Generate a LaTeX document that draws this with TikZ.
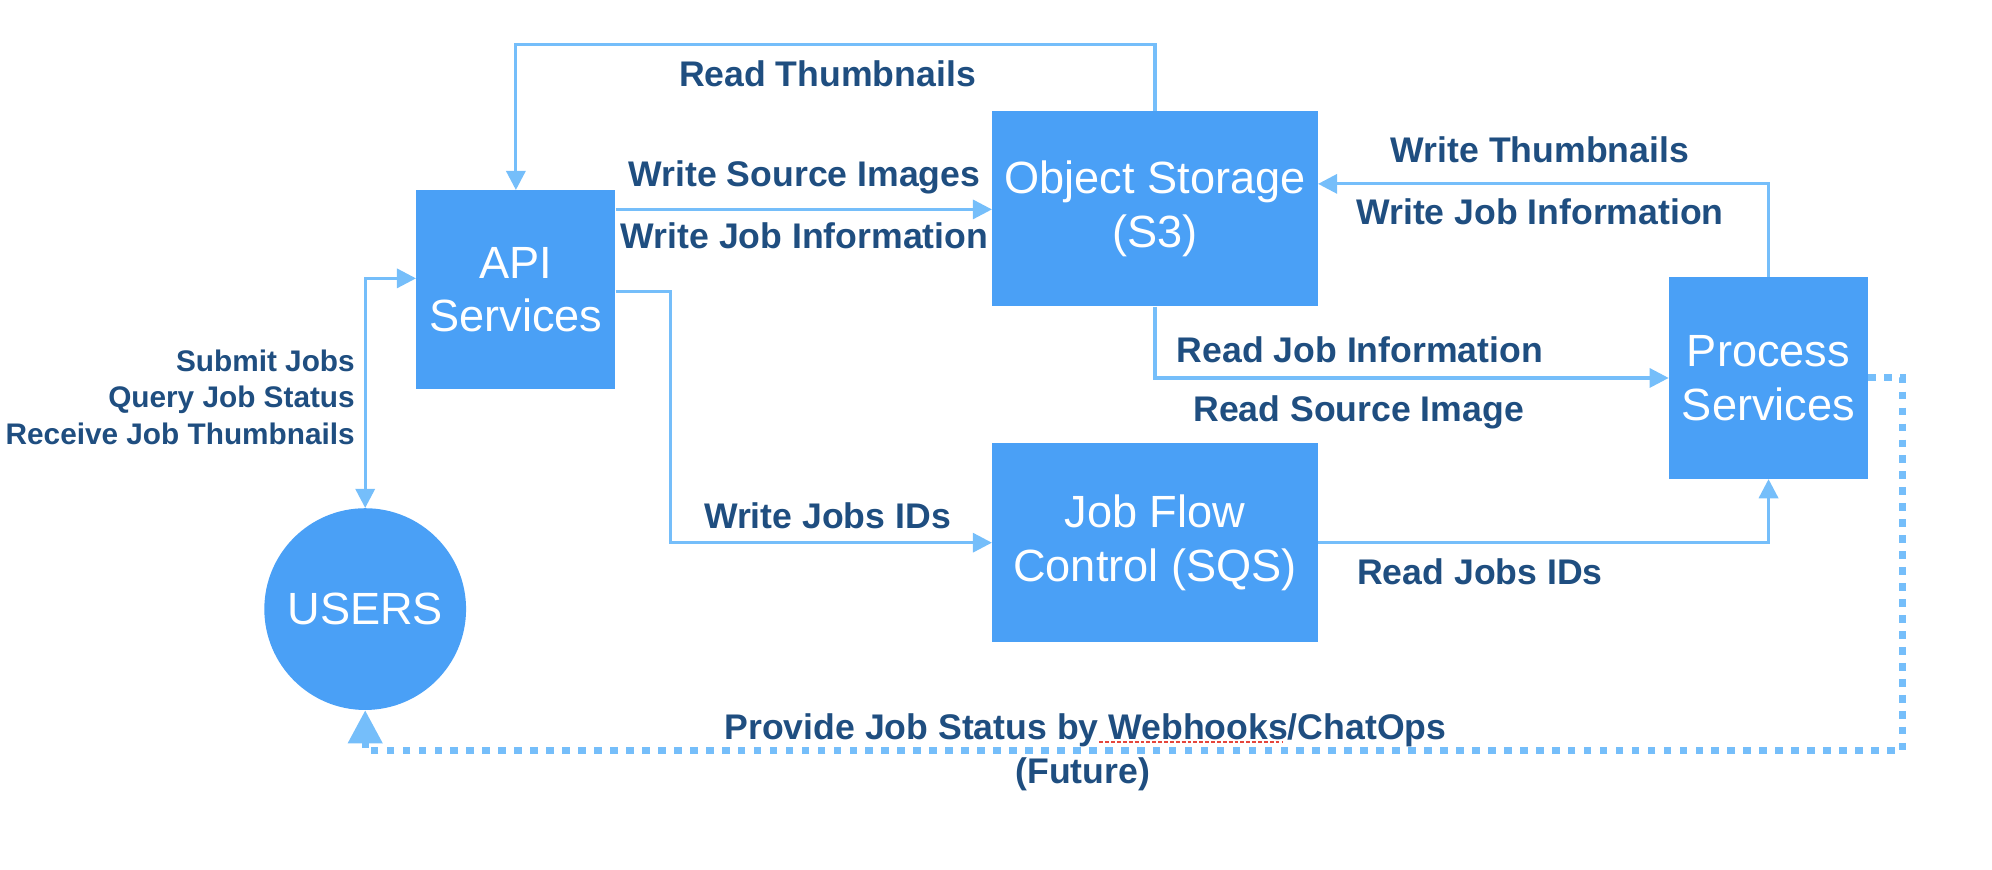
\documentclass[tikz,border=0pt]{standalone}
\usepackage{fontspec}
\setmainfont{Liberation Sans}
\usetikzlibrary{arrows.meta}
\definecolor{boxfill}{RGB}{74,160,246}
\definecolor{linecol}{RGB}{117,190,250}
\definecolor{lbl}{RGB}{31,78,128}
\definecolor{squig}{RGB}{230,70,60}
\tikzset{
  blk/.style={rectangle, fill=boxfill, text=white, align=center, inner sep=0pt,
    font=\fontsize{35.5}{42}\selectfont},
  conn/.style={draw=linecol, line width=2.5bp, -{Triangle[length=15bp,width=15bp]}},
  dotline/.style={draw=linecol, line width=5.5bp, dash pattern=on 6bp off 6.5bp,
    -{Triangle[length=26bp,width=26bp]}},
  lab/.style={text=lbl, inner sep=0pt, font=\fontsize{28}{33}\selectfont\bfseries},
  slab/.style={text=lbl, inner sep=0pt, align=right, font=\fontsize{23.4}{28.5}\selectfont\bfseries}
}
\begin{document}
\begin{tikzpicture}[x=1bp,y=-1bp]
\useasboundingbox (0,0) rectangle (1560,681.3);
% boxes
\node[blk, minimum width=156bp, minimum height=156bp] (api) at (404,227) {API\\Services};
\node[blk, minimum width=255bp, minimum height=153bp] (os) at (904.5,163.5) {Object Storage\\(S3)};
\node[blk, minimum width=255bp, minimum height=156bp] (jf) at (904.5,425) {Job Flow\\Control (SQS)};
\node[blk, minimum width=156bp, minimum height=158bp] (ps) at (1385,296) {Process\\Services};
\node[blk, circle, minimum size=158bp] (users) at (286,477) {USERS};
% helper coordinates
\coordinate (ytop) at (0,35);
\coordinate (yws) at (0,164);
\coordinate (yjob) at (525,228);
\coordinate (ywt) at (0,144);
\coordinate (yuser) at (0,218);
\coordinate (dr) at (1490,588);
% connectors
\draw[conn] (os.north) -- (os.north |- ytop) -| (api.north);
\draw[conn] (api.east |- yws) -- (os.west |- yws);
\draw[conn] (api.east |- yjob) -- (yjob) |- (jf.west);
\draw[conn] (os.south) |- (ps.west);
\draw[conn] (ps.north) |- (os.east |- ywt);
\draw[conn] (jf.east) -| (ps.south);
\draw[conn, {Triangle[length=15bp,width=15bp]}-{Triangle[length=15bp,width=15bp]}] (users.north) |- (api.west |- yuser);
\draw[dotline] (ps.east) -| (dr) -| (users.south);
% labels
\node[lab] (l1) at (648,58) {Read Thumbnails};
\node[lab] (l2) at (630,139) {Write Source Images};
\node[lab] (l3) at (630,185) {Write Job Information};
\node[lab] (l4) at (1206,117) {Write Thumbnails};
\node[lab] (l5) at (1206,166) {Write Job Information};
\node[lab] (l6) at (1065,274) {Read Job Information};
\node[lab] (l7) at (1064,323) {Read Source Image};
\node[lab] (l8) at (648,404) {Write Jobs IDs};
\node[lab] (l9) at (1159,448) {Read Jobs IDs};
\node[slab, anchor=east] (l10) at (278,311) {Submit Jobs\\Query Job Status\\Receive Job Thumbnails};
\node[lab] (l11) at (850,572) {Provide Job Status by Webhooks/ChatOps};
\node[lab] (l12) at (848,606) {(Future)};
\draw[squig, line width=2bp, dash pattern=on 3bp off 1.6bp] (861,581) -- (1004,581);
\end{tikzpicture}
\end{document}
